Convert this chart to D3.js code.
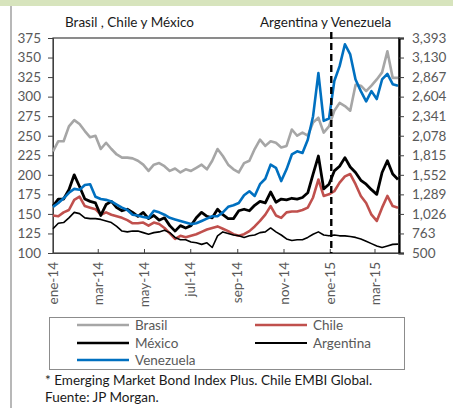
<!DOCTYPE html>
<html>
<head>
<meta charset="utf-8">
<script src="https://cdn.jsdelivr.net/npm/d3@7"></script>
<style>
  body { margin: 0; background: #fff; }
  svg { display: block; font-family: Lato, "Open Sans", sans-serif; }
</style>
</head>
<body>
<svg id="chart" width="453" height="408"></svg>
<script>
// weekly observations, first one on 1 Jan 2014
const startDate = new Date(2014, 0, 1);

// left axis (pb)
const brasil = [230, 243, 243, 262, 270, 265, 256, 248, 250, 233, 241, 233, 226, 222, 222, 221, 218, 213, 205, 213, 215, 211,
  205, 208, 203, 207, 205, 209, 213, 207, 218, 233, 224, 213, 207, 203, 215, 218, 233, 245, 237, 243, 241, 235,
  237, 258, 250, 254, 250, 267, 273, 254, 262, 282, 292, 288, 282, 315, 314, 307, 314, 322, 331, 358, 324, 324];
const chile = [148, 147, 152, 155, 168, 172, 160, 158, 156, 149, 152, 149, 147, 145, 142, 138, 138, 139, 135, 139, 137, 132,
  125, 118, 122, 120, 122, 124, 127, 130, 132, 134, 131, 128, 124, 122, 124, 128, 134, 141, 149, 160, 148, 145,
  152, 153, 153, 155, 158, 171, 194, 173, 175, 179, 190, 198, 201, 188, 173, 164, 149, 141, 158, 173, 160, 158];
const mexico = [160, 169, 169, 181, 200, 185, 169, 166, 164, 148, 162, 166, 158, 154, 156, 152, 147, 152, 144, 148, 142, 145,
  135, 128, 135, 132, 135, 145, 152, 147, 145, 156, 149, 144, 144, 154, 156, 154, 161, 166, 164, 178, 165, 169,
  168, 170, 169, 171, 177, 201, 224, 182, 188, 205, 211, 222, 210, 203, 193, 188, 181, 175, 203, 218, 201, 194];

// right axis (pb)
const argentina = [826, 900, 910, 973, 1047, 1030, 973, 963, 963, 952, 931, 910, 858, 795, 784, 795, 795, 774, 752, 774, 784, 805,
  774, 710, 679, 679, 647, 637, 616, 637, 574, 731, 784, 763, 742, 731, 710, 731, 742, 774, 784, 837, 784, 742,
  689, 668, 679, 679, 710, 752, 784, 742, 731, 742, 731, 731, 721, 710, 689, 658, 626, 595, 574, 595, 616, 620];
const venezuela = [1121, 1173, 1236, 1310, 1363, 1352, 1415, 1426, 1257, 1226, 1215, 1194, 1152, 1110, 1079, 1015, 1005, 984, 973, 1068, 1047, 1015,
  973, 952, 931, 910, 889, 900, 931, 963, 994, 994, 1047, 1121, 1142, 1173, 1278, 1331, 1268, 1426, 1499, 1689, 1647, 1468,
  1626, 1826, 1868, 1847, 2025, 2341, 2920, 2278, 2309, 2814, 3014, 3309, 3172, 2835, 2678, 2541, 2678, 2572, 2835, 2909, 2772, 2750];

const leftTicks = [100, 125, 150, 175, 200, 225, 250, 275, 300, 325, 350, 375];
const rightTicks = [500, 763, 1026, 1289, 1552, 1815, 2078, 2341, 2604, 2867, 3130, 3393];
const xTickDates = [new Date(2014, 0, 1), new Date(2014, 2, 1), new Date(2014, 4, 1), new Date(2014, 6, 1),
  new Date(2014, 8, 1), new Date(2014, 10, 1), new Date(2015, 0, 1), new Date(2015, 2, 1)];
const xTickLabels = ['ene-14', 'mar-14', 'may-14', 'jul-14', 'sep-14', 'nov-14', 'ene-15', 'mar-15'];
const markerDate = new Date(2015, 0, 3);

const series = [
  {name: 'Brasil', values: brasil, axis: 'left', color: '#a6a6a6', width: 2.6},
  {name: 'Chile', values: chile, axis: 'left', color: '#c0504d', width: 2.6},
  {name: 'México', values: mexico, axis: 'left', color: '#000000', width: 2.8},
  {name: 'Argentina', values: argentina, axis: 'right', color: '#000000', width: 1.6},
  {name: 'Venezuela', values: venezuela, axis: 'right', color: '#0070c0', width: 2.6}
];
const dates = d3.range(brasil.length).map(i => d3.timeDay.offset(startDate, 7 * i));

const svg = d3.select('#chart');
const plot = {left: 53, right: 399, top: 38, bottom: 253};

const x = d3.scaleTime()
  .domain([new Date(2014, 0, 1), new Date(2015, 3, 1)])
  .range([plot.left, plot.right - 1]);
const yL = d3.scaleLinear().domain([100, 375]).range([plot.bottom, plot.top]);
const yR = d3.scaleLinear().domain([500, 3393]).range([plot.bottom, plot.top]);

// page decoration
svg.append('rect').attr('x', 0).attr('y', 0).attr('width', 453).attr('height', 6).attr('fill', '#d7e4bd');
svg.append('line').attr('x1', 11).attr('x2', 11).attr('y1', 6).attr('y2', 408)
  .attr('stroke', '#a0a0a0').attr('stroke-width', 1.5);

// titles
svg.append('text').attr('x', 65).attr('y', 27).attr('font-size', 13.5).attr('fill', '#1a1a1a')
  .text('Brasil , Chile y México');
svg.append('text').attr('x', 260).attr('y', 27).attr('font-size', 13.5).attr('fill', '#1a1a1a')
  .text('Argentina y Venezuela');

// plot frame
svg.append('rect')
  .attr('x', plot.left).attr('y', plot.top)
  .attr('width', plot.right - plot.left).attr('height', plot.bottom - plot.top)
  .attr('fill', 'none').attr('stroke', '#404040').attr('stroke-width', 1.2);

// axes
const leftAxis = d3.axisLeft(yL).tickValues(leftTicks).tickSize(5).tickPadding(7);
const gL = svg.append('g').attr('transform', `translate(${plot.left},0)`).call(leftAxis);
gL.select('.domain').attr('stroke', '#404040');

const rightAxis = d3.axisRight(yR).tickValues(rightTicks).tickSize(5).tickPadding(8).tickFormat(d3.format(','));
const gR = svg.append('g').attr('transform', `translate(${plot.right},0)`).call(rightAxis);
gR.select('.domain').attr('stroke', '#000').attr('stroke-width', 2.2);

const bottomAxis = d3.axisBottom(x).tickValues(xTickDates).tickSizeInner(-4).tickSizeOuter(0)
  .tickFormat((d, i) => xTickLabels[i]);
const gB = svg.append('g').attr('transform', `translate(0,${plot.bottom})`).call(bottomAxis);
gB.select('.domain').attr('stroke', '#404040');
gB.selectAll('text')
  .attr('transform', 'rotate(-90)')
  .attr('text-anchor', 'end')
  .attr('x', -9).attr('y', 0).attr('dy', '0.35em');

[gL, gR, gB].forEach(g => {
  g.selectAll('.tick line').attr('stroke', '#404040');
  g.selectAll('text').attr('font-size', 13.5).attr('fill', '#595959').attr('font-family', 'Lato, sans-serif');
});

// series
series.forEach(s => {
  const yS = s.axis === 'left' ? yL : yR;
  const line = d3.line()
    .x((d, i) => x(dates[i]))
    .y(d => yS(d));
  svg.append('path')
    .datum(s.values)
    .attr('fill', 'none')
    .attr('stroke', s.color)
    .attr('stroke-width', s.width)
    .attr('stroke-linejoin', 'round')
    .attr('d', line);
});

// vertical marker
svg.append('line')
  .attr('x1', x(markerDate)).attr('x2', x(markerDate))
  .attr('y1', 32).attr('y2', plot.bottom)
  .attr('stroke', '#000').attr('stroke-width', 2.4).attr('stroke-dasharray', '7,4');

// legend
const legend = svg.append('g');
legend.append('rect').attr('x', 49.5).attr('y', 317.5).attr('width', 355).attr('height', 52)
  .attr('fill', '#fff').attr('stroke', '#8c8c8c');
const legendPos = [[77, 325], [255, 325], [77, 343], [255, 343], [77, 360]];
const legendOrder = ['Brasil', 'Chile', 'México', 'Argentina', 'Venezuela'];
legendOrder.forEach((name, i) => {
  const s = series.find(d => d.name === name);
  const [lx, ly] = legendPos[i];
  legend.append('line').attr('x1', lx).attr('x2', lx + 52).attr('y1', ly).attr('y2', ly)
    .attr('stroke', s.color).attr('stroke-width', s.width === 1.6 ? 2.2 : 2.6);
  legend.append('text').attr('x', lx + 58).attr('y', ly).attr('dy', '0.35em')
    .attr('font-size', 13.5).attr('fill', '#595959').text(name);
});

// footnote
svg.append('text').attr('x', 45).attr('y', 385).attr('font-size', 13.5).attr('fill', '#1a1a1a')
  .text('* Emerging Market Bond Index Plus. Chile EMBI Global.');
svg.append('text').attr('x', 45).attr('y', 402).attr('font-size', 13.5).attr('fill', '#1a1a1a')
  .text('Fuente: JP Morgan.');
</script>
</body>
</html>
